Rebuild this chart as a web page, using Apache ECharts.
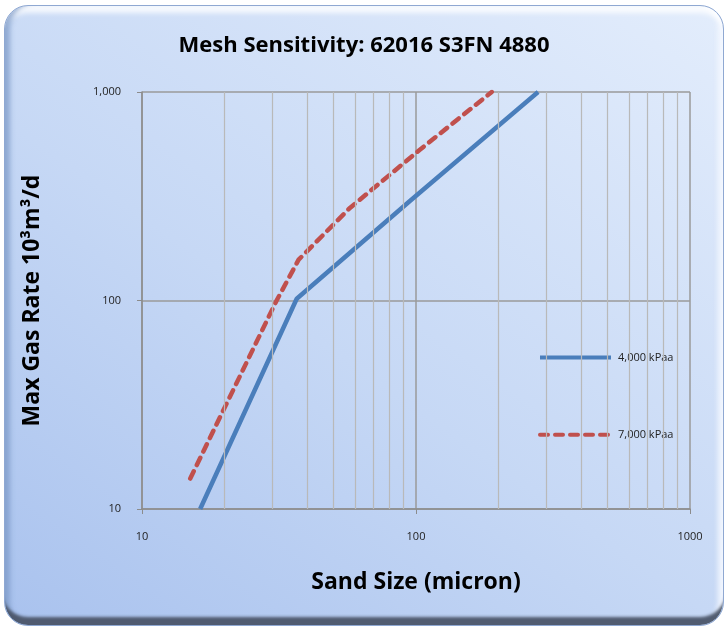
<!DOCTYPE html>
<html>
<head>
<meta charset="utf-8">
<script src="https://cdn.jsdelivr.net/npm/echarts@6/dist/echarts.min.js"></script>
<style>
html,body{margin:0;padding:0;background:#fff;}
#frame{position:absolute;left:4px;top:5px;width:718px;height:619px;border-radius:24px;
background:linear-gradient(35deg,#a9c2ee 0%,#c6d8f5 45%,#e3edfc 100%);
box-shadow: inset 0 -11px 3px -3px rgba(75,85,105,0.95), inset 9px 0 5px -4px rgba(120,150,195,0.7), inset 0 12px 5px -5px rgba(255,255,255,0.8), inset -9px 0 5px -4px rgba(245,248,255,0.9);
border:1.5px solid #8fa8d2;}
#chart{position:absolute;left:0;top:0;width:728px;height:631px;}
</style>
</head>
<body>
<div id="frame"></div>
<div id="chart"></div>
<script>
const title = 'Mesh Sensitivity: 62016 S3FN 4880';
const xName = 'Sand Size (micron)';
const yName = 'Max Gas Rate 10³m³/d';
const seriesNames = ['4,000 kPaa', '7,000 kPaa'];
const sizes4000 = [16.3, 36.7, 95, 279];
const rates4000 = [10, 102, 300, 1000];
const sizes7000 = [15.0, 31.0, 37.3, 57.4, 103, 189];
const rates7000 = [14.0, 100, 157, 278, 527, 1000];
const minorX = [20, 30, 40, 50, 60, 70, 80, 90, 200, 300, 400, 500, 600, 700, 800, 900];

const pair = (xs, ys) => xs.map((x, i) => [x, ys[i]]);
const nameFont = {fontFamily: 'Open Sans', fontWeight: 'bold', fontSize: 23, color: '#000'};

const chart = echarts.init(document.getElementById('chart'));
chart.setOption({
  backgroundColor: 'transparent',
  animation: false,
  title: {
    text: title, left: 'center', top: 30,
    textStyle: Object.assign({}, nameFont, {fontSize: 22})
  },
  legend: {
    orient: 'vertical', left: 533, top: 347, itemWidth: 71, itemHeight: 14, itemGap: 66,
    itemStyle: {opacity: 0},
    lineStyle: {width: 4},
    textStyle: {fontFamily: 'Open Sans', fontSize: 11, color: '#222', padding: [0, 0, 0, 2]},
    data: seriesNames
  },
  grid: {left: 142, right: 38, top: 92, bottom: 122},
  xAxis: {
    type: 'log', logBase: 10, min: 10, max: 1000,
    name: xName, nameLocation: 'middle', nameGap: 62,
    nameTextStyle: nameFont,
    axisLine: {lineStyle: {color: '#8c8c8c', width: 1.5}},
    axisTick: {show: true, length: 5, lineStyle: {color: '#8c8c8c'}},
    axisLabel: {margin: 22, fontFamily: 'Open Sans', fontSize: 11, color: '#222', formatter: v => String(v)},
    splitLine: {show: true, lineStyle: {color: '#9a9a9a', width: 1.5}}
  },
  yAxis: {
    type: 'log', logBase: 10, min: 10, max: 1000,
    name: yName, nameLocation: 'middle', nameGap: 98,
    nameTextStyle: nameFont,
    axisLine: {show: true, lineStyle: {color: '#8c8c8c', width: 1.5}},
    axisTick: {show: true, length: 5, lineStyle: {color: '#8c8c8c'}},
    axisLabel: {margin: 21, fontFamily: 'Open Sans', fontSize: 11, color: '#222',
      formatter: v => v.toLocaleString('en-US')},
    splitLine: {show: true, lineStyle: {color: '#9a9a9a', width: 1.5}}
  },
  series: [
    {
      name: 'grid-minor', type: 'line', data: [], silent: true, legendHoverLink: false,
      markLine: {
        silent: true, symbol: 'none', label: {show: false},
        lineStyle: {color: '#b9b9b9', width: 1.2, type: 'solid'},
        data: minorX.map(v => ({xAxis: v}))
      }
    },
    {
      name: seriesNames[0], type: 'line', data: pair(sizes4000, rates4000),
      showSymbol: false, symbol: 'none',
      lineStyle: {color: '#4a7ebb', width: 4.5},
      itemStyle: {color: '#4a7ebb'}
    },
    {
      name: seriesNames[1], type: 'line', data: pair(sizes7000, rates7000),
      showSymbol: false, symbol: 'none',
      lineStyle: {color: '#c0504d', width: 4.5, type: [8, 7], cap: 'round'},
      itemStyle: {color: '#c0504d'}
    }
  ]
});
</script>
</body>
</html>
